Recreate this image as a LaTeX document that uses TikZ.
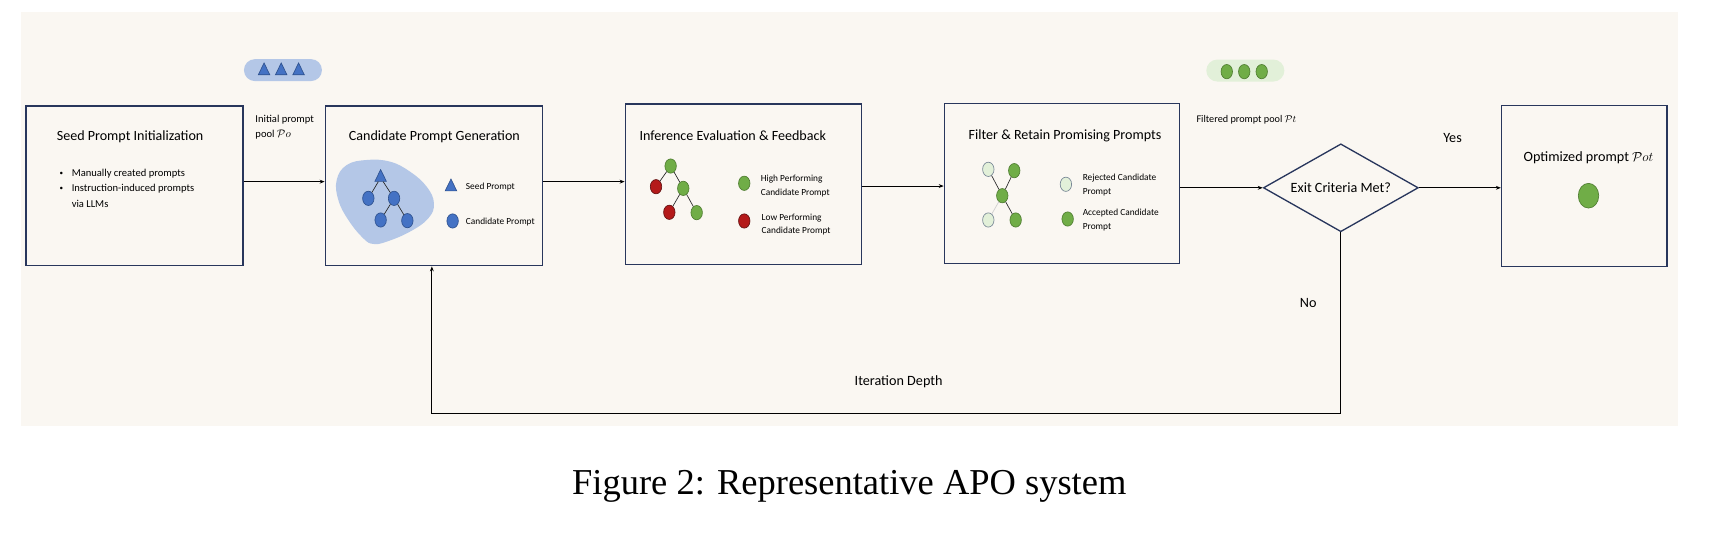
\documentclass[tikz,border=0pt]{standalone}
\usepackage{fontspec}
\setmainfont{Carlito}
\newfontfamily\capfont{Liberation Serif}
\usetikzlibrary{shapes.geometric,arrows.meta}
\definecolor{bgcol}{RGB}{250,247,242}
\definecolor{navy}{RGB}{40,54,92}
\definecolor{bluefill}{RGB}{68,114,196}
\definecolor{blueline}{RGB}{47,82,143}
\definecolor{blobcol}{RGB}{180,199,231}
\definecolor{greenfill}{RGB}{112,173,71}
\definecolor{greenline}{RGB}{80,126,50}
\definecolor{redfill}{RGB}{180,26,26}
\definecolor{redline}{RGB}{100,18,18}
\definecolor{lightfill}{RGB}{226,240,217}
\definecolor{lightline}{RGB}{120,135,150}
\definecolor{pillgreen}{RGB}{226,240,217}
\newcommand{\smallbul}{\makebox[11.1pt][l]{\raisebox{0.6pt}{\fontsize{6.5}{6.5}\selectfont\textbullet}}}
\tikzset{
  stagebox/.style={draw=navy, line width=1.2pt, fill=bgcol},
  conn/.style={-{Stealth[length=4.5pt,width=3.5pt]}, line width=0.85pt, black},
  treeedge/.style={line width=0.6pt, black!85},
  dot/.style={ellipse, minimum width=10.4pt, minimum height=13pt, inner sep=0pt, line width=0.6pt},
  bluedot/.style={dot, fill=bluefill, draw=blueline},
  greendot/.style={dot, fill=greenfill, draw=greenline},
  reddot/.style={dot, fill=redfill, draw=redline},
  lightdot/.style={dot, fill=lightfill, draw=lightline},
  tri/.style={isosceles triangle, shape border rotate=90, isosceles triangle apex angle=52,
     minimum size=10.5pt, inner sep=0pt, fill=bluefill, draw=blueline, line width=0.6pt},
  title/.style={font=\fontsize{12.8}{15}\selectfont},
  bigtext/.style={font=\fontsize{12.9}{15}\selectfont},
  smalltext/.style={font=\fontsize{9.6}{14.2}\selectfont, align=left, inner sep=0pt},
  legend/.style={font=\fontsize{8.5}{12.6}\selectfont, align=left, inner sep=0pt, anchor=west},
  pill/.style={rounded corners=10pt, minimum width=71pt, minimum height=20pt, inner sep=0pt}
}
\begin{document}
\begin{tikzpicture}[x=1pt,y=-1pt]
\useasboundingbox (0,0) rectangle (1568,495);
\fill[white] (0,0) rectangle (1568,495);
\fill[bgcol] (19,11) rectangle (1527,388);

% pools
\node[pill, fill=blobcol] (poolA) at (257.5,63.8) {};
\node[tri] (pa1) at (240.3,64.8) {};
\node[tri] (pa2) at (255.9,64.8) {};
\node[tri] (pa3) at (271.7,64.8) {};
\node[pill, fill=pillgreen] (poolB) at (1133.3,64.2) {};
\node[greendot] (pb1) at (1116.4,65.2) {};
\node[greendot] (pb2) at (1132.3,65.2) {};
\node[greendot] (pb3) at (1148.2,65.2) {};

% boxes
\node[stagebox, minimum width=197.3pt, minimum height=145.3pt] (seed) at (122.35,169.15) {};
\node[stagebox, minimum width=197.8pt, minimum height=145.3pt] (cand) at (394.9,169.15) {};
\node[stagebox, minimum width=214.9pt, minimum height=145.9pt] (inf) at (676.45,167.55) {};
\node[stagebox, minimum width=214.2pt, minimum height=145.6pt] (filt) at (966.5,166.8) {};
\node[stagebox, minimum width=150.7pt, minimum height=146.5pt] (opt) at (1441.75,169.45) {};
\node[diamond, draw=navy, line width=1.2pt, fill=bgcol, minimum width=141pt, minimum height=80pt,
      aspect=1.76, inner sep=3pt, bigtext] (dia) at (1220.2,170.9) {Exit Criteria Met?};

% titles
\node[title] (seedT) at (118.4,124.4) {Seed Prompt Initialization};
\node[title] (candT) at (395.3,124.2) {Candidate Prompt Generation};
\node[title] (infT) at (666.8,123.8) {Inference Evaluation \& Feedback};
\node[title] (filtT) at (969.2,123.8) {Filter \& Retain Promising Prompts};
\node[bigtext] (optT) at (1445.6,143.2) {Optimized prompt $\mathcal{P}ot$};

% seed bullets
\node[smalltext, anchor=west] (bul) at (54,171.1) {\smallbul Manually created prompts\\
  \smallbul Instruction-induced prompts\\
  \hspace*{11.1pt}via LLMs};

% candidate generation content
\draw[fill=blobcol, draw=none] plot[smooth cycle, tension=0.7] coordinates {
  (306.4,163.8) (315.5,150.2) (333.7,145.6) (354.9,147.1) (373.1,156.2) (388.3,169.9)
  (394.9,185) (389.8,198.7) (373.1,210.8) (351.9,219.9) (339.7,222) (330.6,216.9)
  (317,200.2) (307.9,182)};
\node[tri] (ct) at (346.4,161.8) {};
\node[bluedot] (c1) at (335.2,180.5) {};
\node[bluedot] (c2) at (358.6,180.5) {};
\node[bluedot] (c3) at (346.4,200.2) {};
\node[bluedot] (c4) at (370.7,200.8) {};
\draw[treeedge] (ct) -- (c1);
\draw[treeedge] (ct) -- (c2);
\draw[treeedge] (c2) -- (c3);
\draw[treeedge] (c2) -- (c4);
\node[tri] (lt) at (410.4,170.4) {};
\node[legend] (ltT) at (423.8,170.5) {Seed Prompt};
\node[bluedot] (lc) at (411.9,201.1) {};
\node[legend] (lcT) at (423.8,201.7) {Candidate Prompt};

% inference content
\node[greendot] (i1) at (610.3,151.1) {};
\node[reddot] (i2) at (597,169.9) {};
\node[greendot] (i3) at (621.8,171.4) {};
\node[reddot] (i4) at (609.1,193.2) {};
\node[greendot] (i5) at (634,193.5) {};
\draw[treeedge] (i1) -- (i2);
\draw[treeedge] (i1) -- (i3);
\draw[treeedge] (i3) -- (i4);
\draw[treeedge] (i3) -- (i5);
\node[greendot] (ig) at (677.3,166.8) {};
\node[legend] (igT) at (692.2,169.6) {High Performing\\Candidate Prompt};
\node[reddot] (ir) at (677.3,201.1) {};
\node[legend] (irT) at (693,204.3) {Low Performing\\Candidate Prompt};

% filter content
\node[lightdot] (f1) at (899.4,154.1) {};
\node[greendot] (f2) at (923,155.3) {};
\node[greendot] (f3) at (912.1,178.1) {};
\node[lightdot] (f4) at (899.4,200.2) {};
\node[greendot] (f5) at (924.3,200.2) {};
\draw[treeedge] (f1) -- (f3);
\draw[treeedge] (f2) -- (f3);
\draw[treeedge] (f3) -- (f5);
\draw[line width=0.6pt, black!20] (f3) -- (f4);
\node[lightdot] (fl) at (970,167.7) {};
\node[legend] (flT) at (985.2,168.3) {Rejected Candidate\\Prompt};
\node[greendot] (fg) at (971.6,199.3) {};
\node[legend] (fgT) at (985.2,200.5) {Accepted Candidate\\Prompt};

% optimized content
\node[ellipse, minimum width=18.6pt, minimum height=22.5pt, inner sep=0pt, fill=greenfill, draw=greenline, line width=0.6pt] (od) at (1445.6,178.1) {};

% labels
\node[smalltext, anchor=west] (initL) at (232.3,115.8) {Initial prompt\\pool $\mathcal{P}o$};
\node[smalltext, anchor=west, font=\fontsize{9.3}{12}\selectfont] (filtL) at (1088.7,109.2) {Filtered prompt pool $\mathcal{P}t$};
\node[bigtext] (yes) at (1321.9,125.9) {Yes};
\node[bigtext] (no) at (1190.5,276) {No};
\node[bigtext] (iter) at (817.8,347.3) {Iteration Depth};

% connectors
\coordinate (yA) at (0,165.3);
\coordinate (yB) at (0,169.3);
\coordinate (yC) at (0,170.9);
\coordinate (yL) at (0,376.1);
\draw[conn] (seed.east |- yA) -- (cand.west |- yA);
\draw[conn] (cand.east |- yA) -- (inf.west |- yA);
\draw[conn] (inf.east |- yB) -- (filt.west |- yB);
\draw[conn] (filt.east |- yC) -- (dia.west);
\draw[conn] (dia.east) -- (opt.west |- yC);
\draw[conn] (dia.south) -- (dia.south |- yL) -- ([xshift=-1.9pt]cand.south |- yL) -- ([xshift=-1.9pt]cand.south);

% caption
\node[anchor=base, font=\capfont\fontsize{33.2}{40}\selectfont, inner sep=0pt] (cap) at (772.9,449.8) {Figure 2: Representative APO system};
\end{tikzpicture}
\end{document}
